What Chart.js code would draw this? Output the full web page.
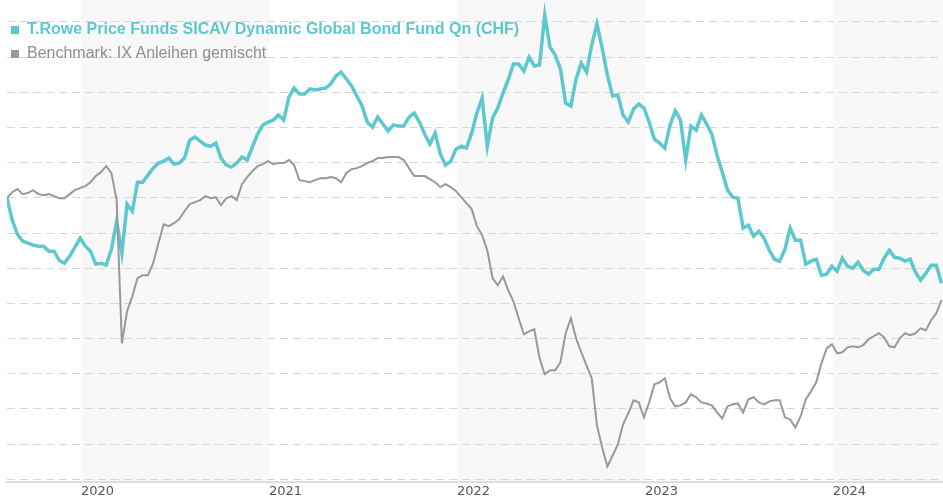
<!DOCTYPE html>
<html>
<head>
<meta charset="utf-8">
<script src="https://cdn.jsdelivr.net/npm/chart.js@4"></script>
<style>
  body { margin: 0; background: #fff; }
  .wrap { position: relative; width: 943px; height: 500px; }
  .legend { position: absolute; left: 11px; top: 17px; font-family: "Liberation Sans", Arial, sans-serif; font-size: 16px; line-height: 24px; }
  .legend div { white-space: nowrap; }
  .legend span.box { display: inline-block; width: 8px; height: 8px; margin-right: 8px; }
  .fund { color: #5ec8cf; font-weight: bold; }
  .bench { color: #8f8f8f; }
</style>
</head>
<body>
<div class="wrap">
  <canvas id="perfChart" width="943" height="500"></canvas>
  <div class="legend">
    <div class="fund"><span class="box" style="background:#5ec8cf"></span>T.Rowe Price Funds SICAV Dynamic Global Bond Fund Qn (CHF)</div>
    <div class="bench"><span class="box" style="background:#999"></span>Benchmark: IX Anleihen gemischt</div>
  </div>
</div>
<script>
// x positions: start ~ 9 Aug 2019, one value every 1/36 year
const startYear = 2019.606;
const stepYears = 1 / 36;
const endYear = 2024.586;

const yearTicks = [2020, 2021, 2022, 2023, 2024];
const shadedYears = [2020, 2022, 2024];
const gridValues = [84, 86, 88, 90, 92, 94, 96, 98, 100, 102, 104, 106, 108, 110];

// indexed performance (start = 100)
const fundValues = [
  100.0, 98.73, 97.93, 97.54, 97.42, 97.31, 97.25, 97.25, 96.97, 96.97,
  96.45, 96.28, 96.68, 97.19, 97.71, 97.25, 96.97, 96.23, 96.28, 96.17,
  97.08, 98.67, 96.85, 99.64, 99.24, 100.89, 100.89, 101.29, 101.69, 101.98,
  102.09, 102.26, 101.92, 101.98, 102.26, 103.28, 103.46, 103.23, 103.00, 102.94,
  103.11, 102.26, 101.86, 101.75, 101.98, 102.32, 102.15, 102.89, 103.63, 104.14,
  104.31, 104.42, 104.71, 104.42, 105.73, 106.24, 105.90, 105.90, 106.19, 106.13,
  106.19, 106.24, 106.47, 106.93, 107.15, 106.76, 106.36, 105.79, 105.22, 104.31,
  104.02, 104.59, 104.20, 103.80, 104.14, 104.08, 104.08, 104.59, 104.82, 104.31,
  103.63, 103.06, 103.68, 102.49, 101.86, 102.09, 102.77, 102.94, 102.83, 103.68,
  104.82, 105.67, 102.94, 104.54, 105.11, 105.96, 106.70, 107.61, 107.61, 107.21,
  108.01, 107.50, 107.55, 110.40, 108.58, 108.12, 107.33, 105.39, 105.22, 106.76,
  107.67, 107.15, 108.69, 109.89, 108.52, 106.98, 105.79, 105.85, 104.71, 104.31,
  105.05, 105.33, 105.11, 104.31, 103.34, 103.11, 102.83, 104.14, 104.94, 104.42,
  102.15, 104.08, 103.85, 104.71, 104.20, 103.63, 102.43, 101.46, 100.44, 100.04,
  99.98, 98.28, 98.45, 97.82, 98.10, 97.71, 97.02, 96.51, 96.40, 97.08,
  98.28, 97.59, 97.59, 96.23, 96.40, 96.51, 95.60, 95.66, 96.11, 95.83,
  96.57, 96.11, 96.00, 96.34, 95.88, 95.66, 95.94, 95.94, 96.57, 97.02,
  96.62, 96.57, 96.40, 96.51, 95.77, 95.32, 95.71, 96.17, 96.17, 95.14
];

const benchValues = [
  100.0, 100.32, 100.50, 100.21, 100.27, 100.44, 100.21, 100.15, 100.21, 100.10,
  99.98, 99.98, 100.21, 100.44, 100.55, 100.67, 100.89, 101.24, 101.46, 101.80,
  101.41, 99.87, 91.73, 93.55, 94.40, 95.43, 95.60, 95.60, 96.28, 97.42,
  98.50, 98.39, 98.56, 98.79, 99.24, 99.64, 99.76, 99.87, 100.10, 99.98,
  100.04, 99.58, 99.98, 100.10, 99.87, 100.78, 101.18, 101.52, 101.80, 101.92,
  102.09, 101.92, 101.98, 101.98, 102.15, 101.86, 101.01, 100.95, 100.89, 101.01,
  101.12, 101.12, 101.18, 101.12, 100.89, 101.41, 101.63, 101.69, 101.80, 101.98,
  102.09, 102.26, 102.26, 102.32, 102.32, 102.32, 102.15, 101.69, 101.24, 101.24,
  101.24, 101.06, 100.89, 100.61, 100.78, 100.61, 100.38, 100.04, 99.70, 99.36,
  98.39, 97.88, 97.02, 95.43, 95.03, 95.54, 94.75, 94.12, 93.15, 92.24,
  92.41, 92.53, 90.88, 89.97, 90.19, 90.19, 90.65, 92.30, 93.15, 92.01,
  91.22, 90.48, 89.74, 87.06, 85.81, 84.73, 85.35, 85.98, 87.12, 87.75,
  88.49, 88.37, 87.52, 88.37, 89.40, 89.51, 89.74, 88.60, 88.14, 88.20,
  88.37, 88.83, 88.66, 88.37, 88.31, 88.20, 87.80, 87.46, 88.14, 88.26,
  88.31, 87.80, 88.54, 88.66, 88.37, 88.26, 88.43, 88.49, 88.49, 87.52,
  87.40, 86.95, 87.57, 88.54, 89.00, 89.51, 90.59, 91.44, 91.67, 91.16,
  91.22, 91.50, 91.56, 91.50, 91.62, 91.96, 92.13, 92.30, 92.07, 91.56,
  91.50, 92.01, 92.30, 92.19, 92.30, 92.58, 92.47, 93.04, 93.44, 94.18
];

const toPoints = (vals) => vals.map((v, i) => ({ x: startYear + i * stepYears, y: v }));

// grey background for every other year
const yearBands = {
  id: 'yearBands',
  beforeDraw(chart) {
    const { ctx, chartArea, scales } = chart;
    ctx.save();
    ctx.fillStyle = '#f8f8f8';
    for (const yr of shadedYears) {
      const x1 = Math.max(scales.x.getPixelForValue(yr), chartArea.left);
      const x2 = Math.min(scales.x.getPixelForValue(yr + 1), chartArea.right);
      if (x2 > x1) ctx.fillRect(x1, chartArea.top, x2 - x1, chartArea.bottom - chartArea.top);
    }
    ctx.restore();
  }
};

new Chart(document.getElementById('perfChart'), {
  type: 'line',
  data: {
    datasets: [
      {
        label: 'Benchmark: IX Anleihen gemischt',
        data: toPoints(benchValues),
        borderColor: '#999999',
        borderWidth: 2,
        pointRadius: 0,
        tension: 0,
        order: 0
      },
      {
        label: 'T.Rowe Price Funds SICAV Dynamic Global Bond Fund Qn (CHF)',
        data: toPoints(fundValues),
        borderColor: '#5ec8cf',
        borderWidth: 3.5,
        pointRadius: 0,
        tension: 0,
        order: 1
      }
    ]
  },
  options: {
    responsive: false,
    animation: false,
    layout: { padding: { left: 7, right: 0, top: 0, bottom: 0 } },
    plugins: { legend: { display: false }, tooltip: { enabled: false } },
    scales: {
      x: {
        type: 'linear',
        min: startYear,
        max: endYear,
        afterBuildTicks: (scale) => { scale.ticks = yearTicks.map(v => ({ value: v })); },
        grid: { display: false, drawTicks: false },
        border: { display: true, color: '#dedede', width: 2 },
        ticks: {
          align: 'start',
          padding: 1,
          maxRotation: 0,
          autoSkip: false,
          color: '#555',
          font: { family: 'DejaVu Sans', size: 13 },
          callback: (v) => String(v)
        }
      },
      y: {
        min: 83.82,
        max: 111.25,
        afterBuildTicks: (scale) => { scale.ticks = gridValues.map(v => ({ value: v })); },
        ticks: { display: false },
        border: { display: false, dash: [8, 5] },
        grid: { color: '#d6d6d6', drawTicks: false, lineWidth: 1 }
      }
    }
  },
  plugins: [yearBands]
});
</script>
</body>
</html>
